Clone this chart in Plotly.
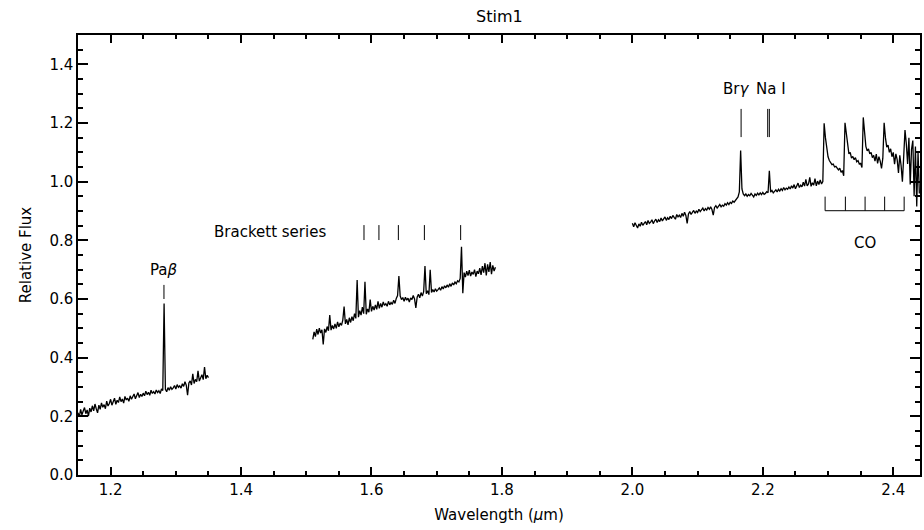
import plotly.graph_objects as go

# ---------------- data ----------------
# J band segment, wavelength grid 1.150 .. 1.350 step 0.002
wl_j_start, wl_j_step = 1.150, 0.002
flux_j = [0.212, 0.198, 0.224, 0.205, 0.218, 0.230, 0.209, 0.222, 0.201, 0.228,
          0.215, 0.236, 0.219, 0.242, 0.226, 0.212, 0.238, 0.224, 0.246, 0.231,
          0.240, 0.226, 0.252, 0.235, 0.244, 0.258, 0.238, 0.249, 0.262, 0.241,
          0.255, 0.247, 0.266, 0.250, 0.259, 0.245, 0.268, 0.256, 0.262, 0.251,
          0.270, 0.258, 0.265, 0.276, 0.260, 0.272, 0.281, 0.264, 0.275, 0.268,
          0.279, 0.270, 0.286, 0.274, 0.282, 0.272, 0.289, 0.278, 0.284, 0.276,
          0.290, 0.281, 0.287, 0.278, 0.293, 0.288, 0.585, 0.292, 0.284, 0.298,
          0.289, 0.301, 0.292, 0.297, 0.305, 0.293, 0.308, 0.299, 0.304, 0.296,
          0.311, 0.302, 0.318, 0.306, 0.272, 0.314, 0.321, 0.307, 0.345, 0.312,
          0.326, 0.318, 0.355, 0.320, 0.331, 0.342, 0.325, 0.368, 0.328, 0.340,
          0.332]

# H band segment, 1.510 .. 1.790 step 0.002
wl_h_start, wl_h_step = 1.510, 0.002
flux_h = [0.462, 0.488, 0.472, 0.497, 0.479, 0.501, 0.484, 0.495, 0.445, 0.498,
          0.486, 0.506, 0.492, 0.545, 0.494, 0.510, 0.498, 0.515, 0.500, 0.522,
          0.505, 0.518, 0.510, 0.528, 0.574, 0.515, 0.530, 0.512, 0.536, 0.520,
          0.540, 0.526, 0.550, 0.534, 0.665, 0.538, 0.560, 0.545, 0.572, 0.550,
          0.659, 0.548, 0.566, 0.555, 0.598, 0.558, 0.575, 0.562, 0.580, 0.565,
          0.592, 0.568, 0.585, 0.572, 0.590, 0.578, 0.584, 0.575, 0.592, 0.580,
          0.588, 0.582, 0.596, 0.585, 0.602, 0.612, 0.678, 0.610, 0.598, 0.605,
          0.592, 0.606, 0.596, 0.603, 0.590, 0.604, 0.598, 0.612, 0.600, 0.570,
          0.606, 0.616, 0.604, 0.622, 0.610, 0.625, 0.712, 0.618, 0.628, 0.615,
          0.700, 0.622, 0.632, 0.624, 0.635, 0.627, 0.632, 0.638, 0.630, 0.642,
          0.634, 0.645, 0.638, 0.648, 0.640, 0.652, 0.643, 0.655, 0.648, 0.658,
          0.652, 0.662, 0.658, 0.670, 0.778, 0.620, 0.690, 0.675, 0.695, 0.680,
          0.698, 0.678, 0.692, 0.684, 0.700, 0.676, 0.695, 0.686, 0.705, 0.682,
          0.712, 0.690, 0.722, 0.680, 0.718, 0.692, 0.726, 0.685, 0.715, 0.695,
          0.708]

# K band segment, 2.000 .. 2.440 step 0.002
wl_k_start, wl_k_step = 2.000, 0.002
flux_k = [0.858, 0.846, 0.860, 0.850, 0.842, 0.856, 0.848, 0.862, 0.851, 0.858,
          0.864, 0.853, 0.868, 0.858, 0.862, 0.870, 0.857, 0.866, 0.872, 0.861,
          0.870, 0.864, 0.876, 0.866, 0.873, 0.880, 0.868, 0.877, 0.871, 0.882,
          0.874, 0.885, 0.878, 0.872, 0.888, 0.880, 0.886, 0.878, 0.892, 0.882,
          0.896, 0.885, 0.858, 0.890, 0.898, 0.888, 0.895, 0.902, 0.892, 0.900,
          0.895, 0.906, 0.898, 0.904, 0.910, 0.900, 0.908, 0.903, 0.912, 0.906,
          0.914, 0.905, 0.886, 0.912, 0.918, 0.910, 0.916, 0.922, 0.914, 0.920,
          0.916, 0.925, 0.920, 0.928, 0.922, 0.930, 0.926, 0.934, 0.930, 0.936,
          0.940, 0.948, 0.965, 1.106, 0.975, 0.958, 0.952, 0.958, 0.950, 0.956,
          0.952, 0.960, 0.954, 0.948, 0.958, 0.953, 0.961, 0.955, 0.962, 0.956,
          0.963, 0.957, 0.960, 0.966, 0.962, 1.037, 0.964, 0.970, 0.962, 0.968,
          0.972, 0.965, 0.974, 0.968, 0.976, 0.970, 0.980, 0.972, 0.978, 0.974,
          0.982, 0.975, 0.986, 0.978, 0.990, 0.976, 0.984, 0.995, 0.980, 0.988,
          0.982, 0.998, 0.985, 1.008, 0.986, 0.992, 1.015, 0.984, 0.996, 0.988,
          1.010, 0.986, 1.002, 0.990, 1.006, 0.992, 1.000, 1.199, 1.150, 1.105,
          1.085, 1.072, 1.065, 1.058, 1.060, 1.050, 1.052, 1.045, 1.040, 1.046,
          1.032, 1.038, 1.020, 1.201, 1.160, 1.120, 1.095, 1.100, 1.080, 1.086,
          1.075, 1.082, 1.068, 1.072, 1.060, 1.062, 1.048, 1.219, 1.150, 1.120,
          1.105, 1.112, 1.095, 1.100, 1.082, 1.090, 1.070, 1.094, 1.062, 1.085,
          1.070, 1.045, 1.080, 1.201, 1.150, 1.118, 1.125, 1.100, 1.112, 1.085,
          1.100, 1.060, 1.095, 1.075, 1.030, 1.090, 1.055, 1.000, 1.085, 1.176,
          1.130, 1.060, 1.150, 0.990, 1.110, 1.140, 0.950, 1.120, 0.915, 1.100,
          0.960]

# line identifications (marker positions as drawn)
pab_wl = [1.2818]
brackett_wl = [1.5885, 1.6114, 1.6412, 1.6811, 1.7367]
brg_wl = [2.1667]
nai_wl = [2.2075, 2.2100]
co_wl = [2.2955, 2.3266, 2.3568, 2.3868, 2.4167]


def grid(start, step, n):
    return [round(start + i * step, 4) for i in range(n)]


wl_j = grid(wl_j_start, wl_j_step, len(flux_j))
wl_h = grid(wl_h_start, wl_h_step, len(flux_h))
wl_k = grid(wl_k_start, wl_k_step, len(flux_k))

fig = go.Figure()
for wl, fl in [(wl_j, flux_j), (wl_h, flux_h), (wl_k, flux_k)]:
    fig.add_trace(go.Scatter(x=wl, y=fl, mode="lines",
                             line=dict(color="black", width=1.3)))


def ticks(wls, y0, y1):
    xs, ys = [], []
    for w in wls:
        xs += [w, w, None]
        ys += [y0, y1, None]
    return xs, ys


marks = [ticks(pab_wl, 0.600, 0.648),
         ticks(brackett_wl, 0.801, 0.852),
         ticks(brg_wl, 1.152, 1.248),
         ticks(nai_wl, 1.152, 1.248),
         ticks(co_wl, 0.901, 0.949)]
for xs, ys in marks:
    fig.add_trace(go.Scatter(x=xs, y=ys, mode="lines", line=dict(color="black", width=1)))
# CO bracket horizontal bar
fig.add_trace(go.Scatter(x=[co_wl[0], co_wl[-1]], y=[0.901, 0.901], mode="lines",
                         line=dict(color="black", width=1)))

font = "DejaVu Sans"
fs = 15
labels = [
    (1.2818, 0.70, "Pa<i>β</i>"),
    (1.445, 0.830, "Brackett series"),
    (2.159, 1.315, "Br<i>γ</i>"),
    (2.2127, 1.315, "Na I"),
    (2.357, 0.79, "CO"),
]
for x, y, t in labels:
    fig.add_annotation(x=x, y=y, text=t, showarrow=False,
                       font=dict(family=font, size=fs, color="black"))

base = dict(showline=True, linecolor="black", linewidth=1.5, mirror="ticks",
            ticks="inside", tickcolor="#000000", tickwidth=2,
            showgrid=False, zeroline=False,
            tickfont=dict(family=font, size=fs, color="black"),
            tickformat=".1f")

fig.update_xaxes(range=[1.15, 2.441], dtick=0.2, tick0=0, ticklen=8,
                 minor=dict(ticks="inside", dtick=0.05, ticklen=4, tickcolor="#000000",
                            tickwidth=1.5, showgrid=False),
                 **base)
fig.update_yaxes(range=[0, 1.5], dtick=0.2, tick0=0, ticklen=10,
                 minor=dict(ticks="inside", dtick=0.05, ticklen=5, tickcolor="#000000",
                            tickwidth=1.5, showgrid=False),
                 **base)
fig.update_xaxes(title_text="Wavelength (<i>μ</i>m)", title_standoff=12,
                 title_font=dict(family=font, size=fs, color="black"))
fig.update_yaxes(title_text="Relative Flux", title_standoff=14,
                 title_font=dict(family=font, size=fs, color="black"))

fig.update_layout(
    template="simple_white",
    showlegend=False,
    hovermode=False,
    width=924, height=530,
    margin=dict(l=78, r=2, t=35, b=55),
    title=dict(text="Stim1", x=0.5405, xanchor="center", y=0.97, yanchor="middle",
               font=dict(family=font, size=16, color="black")),
)

fig.write_html("out.html")
